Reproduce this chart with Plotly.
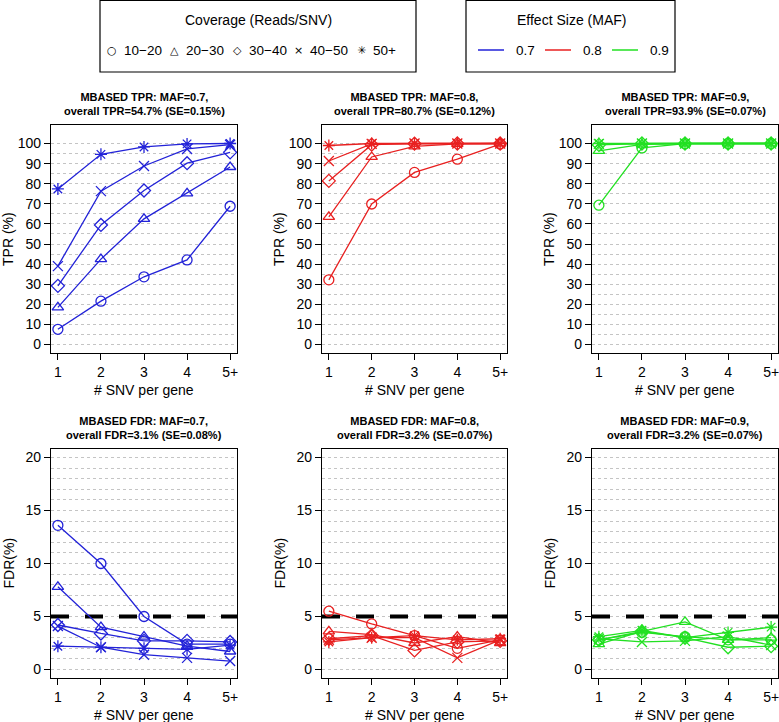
import plotly.graph_objects as go

W, H = 779, 722

snv_pos = [1, 2, 3, 4, 5]
snv_labels = ["1", "2", "3", "4", "5+"]
cov_labels = ["10\u221220", "20\u221230", "30\u221240", "40\u221250", "50+"]
cov_symbols = ["circle-open", "triangle-up-open", "diamond-open", "x-thin-open", "asterisk-open"]
cov_glyphs = ["\u25cb", "\u25b3", "\u25c7", "\u00d7", "\u2733"]
maf_labels = ["0.7", "0.8", "0.9"]
maf_colors = ["#2222D8", "#E82020", "#22E022"]

# TPR (%) per coverage class (rows: 10-20, 20-30, 30-40, 40-50, 50+)
tpr_07 = [[7.6, 21.6, 33.7, 42.1, 68.8],
          [18.5, 42.5, 62.5, 75.2, 88.3],
          [29.2, 59.5, 76.6, 90.2, 95.6],
          [39.0, 76.3, 88.8, 97.3, 99.4],
          [77.4, 94.6, 98.3, 99.8, 100.0]]
tpr_08 = [[32.2, 69.9, 85.6, 92.2, 99.7],
          [63.5, 93.3, 98.6, 99.8, 100.0],
          [81.4, 99.4, 99.9, 100.0, 100.0],
          [91.3, 99.8, 100.0, 100.0, 100.0],
          [99.0, 100.0, 100.0, 100.0, 100.0]]
tpr_09 = [[69.3, 97.8, 99.9, 100.0, 100.0],
          [96.3, 99.6, 100.0, 100.0, 100.0],
          [99.3, 100.0, 100.0, 100.0, 100.0],
          [99.8, 100.0, 100.0, 100.0, 100.0],
          [100.0, 100.0, 100.0, 100.0, 100.0]]
# FDR (%)
fdr_07 = [[13.6, 10.0, 5.0, 2.4, 2.4],
          [7.8, 4.0, 3.1, 2.2, 1.7],
          [4.2, 3.4, 2.7, 2.7, 2.6],
          [4.1, 2.1, 1.4, 1.1, 0.8],
          [2.2, 2.1, 2.0, 1.9, 2.3]]
fdr_08 = [[5.5, 4.3, 3.2, 2.0, 2.8],
          [3.6, 3.3, 2.5, 3.1, 2.5],
          [2.9, 3.2, 1.8, 2.6, 2.7],
          [2.8, 3.0, 3.0, 1.1, 2.8],
          [2.6, 3.0, 3.2, 2.8, 2.9]]
fdr_09 = [[2.8, 3.5, 3.1, 2.8, 2.8],
          [2.4, 3.6, 4.5, 2.8, 3.0],
          [2.8, 3.6, 3.0, 2.1, 2.2],
          [2.9, 2.6, 2.7, 3.1, 2.3],
          [3.1, 3.7, 3.0, 3.5, 4.0]]

tpr_titles = ["MBASED TPR: MAF=0.7,<br>overall TPR=54.7% (SE=0.15%)",
              "MBASED TPR: MAF=0.8,<br>overall TPR=80.7% (SE=0.12%)",
              "MBASED TPR: MAF=0.9,<br>overall TPR=93.9% (SE=0.07%)"]
fdr_titles = ["MBASED FDR: MAF=0.7,<br>overall FDR=3.1% (SE=0.08%)",
              "MBASED FDR: MAF=0.8,<br>overall FDR=3.2% (SE=0.07%)",
              "MBASED FDR: MAF=0.9,<br>overall FDR=3.2% (SE=0.07%)"]
fdr_threshold = 5
x_range = [0.84, 5.16]

FONT = "Liberation Sans, Arial, sans-serif"

def px(x):
    return x / W

def py(y):
    return 1 - y / H

col_px = [(51, 237), (322, 507), (592, 778)]
row_px = [(125, 353), (449, 678)]

fig = go.Figure()

panels = [tpr_07, tpr_08, tpr_09, fdr_07, fdr_08, fdr_09]
for i, data in enumerate(panels):
    r, c = divmod(i, 3)
    ax = "" if i == 0 else str(i + 1)
    color = maf_colors[c]
    if r == 1:
        fig.add_trace(go.Scatter(
            x=x_range, y=[fdr_threshold, fdr_threshold], mode="lines",
            xaxis="x" + ax, yaxis="y" + ax,
            line=dict(color="black", width=4, dash="18px,16px"),
            showlegend=False, hoverinfo="skip"))
    for k, vals in enumerate(data):
        fig.add_trace(go.Scatter(
            x=snv_pos, y=vals, mode="lines+markers",
            xaxis="x" + ax, yaxis="y" + ax,
            line=dict(color=color, width=1.3),
            marker=dict(symbol=cov_symbols[k], size=10, color=color,
                        line=dict(color=color, width=1.3)),
            showlegend=False, cliponaxis=False,
            name=cov_labels[k]))

grid_col = "#c4c4c4"
layout = dict(width=W, height=H, autosize=False,
              margin=dict(l=0, r=0, t=0, b=0, pad=0),
              plot_bgcolor="white", paper_bgcolor="white",
              font=dict(family=FONT, color="black"))
for i in range(6):
    r, c = divmod(i, 3)
    ax = "" if i == 0 else str(i + 1)
    x0, x1 = col_px[c]
    y0, y1 = row_px[r]
    layout["xaxis" + ax] = dict(
        domain=[px(x0), px(x1)], anchor="y" + ax, range=x_range,
        tickvals=snv_pos, ticktext=snv_labels, ticks="outside", ticklen=6,
        tickcolor="black", showline=True, mirror=True, linecolor="black",
        linewidth=1.2, showgrid=False, zeroline=False, automargin=False,
        ticklabeloverflow="allow", tickfont=dict(size=14, family=FONT))
    if r == 0:
        yr = [-4.2, 109.2]
        major = list(range(0, 101, 10))
        minor = list(range(5, 100, 10))
    else:
        yr = [-0.8, 20.8]
        major = list(range(0, 21, 5))
        minor = [v for v in range(0, 21) if v % 5]
    layout["yaxis" + ax] = dict(
        domain=[py(y1), py(y0)], anchor="x" + ax, range=yr,
        tickvals=major, ticks="outside", ticklen=6, tickcolor="black",
        showline=True, mirror=True, linecolor="black", linewidth=1.2,
        showgrid=True, gridcolor=grid_col, griddash="3px,3px", gridwidth=1,
        zeroline=False, automargin=False, ticklabeloverflow="allow",
        tickfont=dict(size=14, family=FONT),
        minor=dict(tickvals=minor, showgrid=True, gridcolor=grid_col,
                   griddash="3px,3px", gridwidth=1, ticks=""))
fig.update_layout(**layout)

annotations = []
shapes = []
for c in range(3):
    x0, x1 = col_px[c]
    xc = (x0 + x1) / 2
    for r in range(2):
        y0, y1 = row_px[r]
        title = tpr_titles[c] if r == 0 else fdr_titles[c]
        annotations.append(dict(
            x=px(xc), y=py(y0 - 6), xref="paper", yref="paper",
            text="<b>" + title + "</b>", showarrow=False, xanchor="center",
            yanchor="bottom", font=dict(size=11, family=FONT)))
        annotations.append(dict(
            x=px(xc), y=py(y1 + 37), xref="paper", yref="paper",
            text="# SNV per gene", showarrow=False, xanchor="center",
            yanchor="middle", font=dict(size=14, family=FONT)))
        annotations.append(dict(
            x=px(x0 - 43), y=py((y0 + y1) / 2), xref="paper", yref="paper",
            text="TPR (%)" if r == 0 else "FDR(%)", showarrow=False,
            textangle=-90, xanchor="center", yanchor="middle",
            font=dict(size=14, family=FONT)))

# Legend boxes
shapes.append(dict(type="rect", xref="paper", yref="paper",
                   x0=px(100), x1=px(416), y0=py(72), y1=py(0.5),
                   line=dict(color="black", width=1.2)))
shapes.append(dict(type="rect", xref="paper", yref="paper",
                   x0=px(466), x1=px(675), y0=py(72), y1=py(0.5),
                   line=dict(color="black", width=1.2)))
annotations.append(dict(x=px(258), y=py(20), xref="paper", yref="paper",
                        text="Coverage (Reads/SNV)", showarrow=False,
                        xanchor="center", yanchor="middle",
                        font=dict(size=14, family=FONT)))
annotations.append(dict(x=px(571), y=py(20), xref="paper", yref="paper",
                        text="Effect Size (MAF)", showarrow=False,
                        xanchor="center", yanchor="middle",
                        font=dict(size=14, family=FONT)))
glyph_x = [112, 174, 237, 298, 361]
for k in range(5):
    annotations.append(dict(x=px(glyph_x[k]), y=py(50), xref="paper", yref="paper",
                            text=cov_glyphs[k], showarrow=False, xanchor="center",
                            yanchor="middle",
                            font=dict(size=11, family="DejaVu Sans")))
    annotations.append(dict(x=px(glyph_x[k] + 10), y=py(50), xref="paper", yref="paper",
                            text=cov_labels[k], showarrow=False, xanchor="left",
                            yanchor="middle",
                            font=dict(size=13.5, family=FONT)))
line_x = [478, 545, 612]
for m in range(3):
    shapes.append(dict(type="line", xref="paper", yref="paper",
                       x0=px(line_x[m]), x1=px(line_x[m] + 26), y0=py(50), y1=py(50),
                       line=dict(color=maf_colors[m], width=1.5)))
    annotations.append(dict(x=px(line_x[m] + 36), y=py(50), xref="paper", yref="paper",
                            text=maf_labels[m], showarrow=False, xanchor="left",
                            yanchor="middle",
                            font=dict(size=13.5, family=FONT)))

fig.update_layout(annotations=annotations, shapes=shapes)
fig.write_html("out.html", config={"displayModeBar": False},
               post_script="document.body.style.margin='0';document.body.style.overflow='hidden';")
